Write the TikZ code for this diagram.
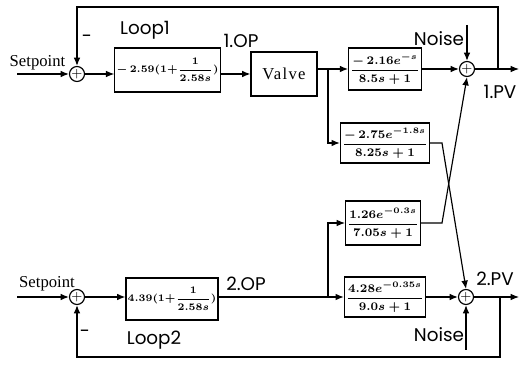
\documentclass[tikz,border=0pt]{standalone}
\usepackage{amsmath}
\usepackage{fontspec}
\setmainfont{Liberation Serif}
\newfontfamily\gothic{Poppins}
\usetikzlibrary{positioning,arrows.meta}
\tikzset{
  blk/.style={draw,line width=0.7pt,inner sep=1pt,font=\fontsize{7}{8}\selectfont\boldmath},
  sumpt/.style={draw,circle,line width=0.7pt,minimum size=9pt,inner sep=0pt,font=\footnotesize},
  lbl/.style={font=\gothic\fontsize{11}{13}\selectfont},
  wire/.style={line width=0.7pt},
  sig/.style={wire,-{Latex[length=5pt,width=4pt]}}
}

\begin{document}
\begin{tikzpicture}[x=0.6pt,y=-0.6pt]
\useasboundingbox (0,0) rectangle (520,366);
% loop 1
\node[sumpt] (sa) at (77,74) {$+$};
\node[blk,minimum width=57pt,minimum height=26.4pt,font=\fontsize{6.3}{7}\selectfont\boldmath] (ca) at (167.5,70) {$-\,2.59(1{+}\dfrac{1}{2.58s})$};
\node[blk,minimum width=39.6pt,minimum height=26.4pt,font=\normalsize] (valve) at (284,74) {\addfontfeature{LetterSpace=8}Valve};
\node[blk,minimum width=40.8pt,minimum height=25.2pt] (g11) at (385,69) {$\dfrac{-\,2.16e^{-s}}{8.5s+1}$};
\node[blk,minimum width=39.6pt,minimum height=24pt] (g21) at (385,143) {$\dfrac{-\,2.75e^{-1.8s}}{8.25s+1}$};
\node[sumpt] (sb1) at (467,69) {$+$};
\coordinate (ina) at (17,74);
\coordinate (pa) at (328,69);
\coordinate (na) at (467,25);
\coordinate (ta) at (498,69);
\coordinate (oa) at (519,69);
\coordinate (fa) at (498,7);
\coordinate (da) at (442,143);
% loop 2
\node[sumpt] (sb) at (77,297) {$+$};
\node[blk,minimum width=51.6pt,minimum height=25.2pt,font=\fontsize{6}{7}\selectfont\boldmath] (cb) at (172,299) {$4.39(1{+}\dfrac{1}{2.58s})$};
\node[blk,minimum width=36pt,minimum height=26.4pt] (g12) at (383,223) {$\dfrac{1.26e^{-0.3s}}{7.05s+1}$};
\node[blk,minimum width=45.6pt,minimum height=24pt] (g22) at (385,297) {$\dfrac{4.28e^{-0.35s}}{9.0s+1}$};
\node[sumpt] (sb2) at (466,297) {$+$};
\coordinate (inb) at (17,297);
\coordinate (pb) at (328,297);
\coordinate (nb) at (466,350);
\coordinate (tb) at (500,297);
\coordinate (ob) at (519,297);
\coordinate (fb) at (500,357);
\coordinate (db) at (442,223);
% labels
\node (spa) at (37.5,63) {Setpoint};
\node (spb) at (47,284) {Setpoint};
\node[lbl] (loopa) at (145,30) {Loop1};
\node[lbl] (loopb) at (154,340) {Loop2};
\node[lbl] (minusa) at (87,39) {-};
\node[lbl] (minusb) at (85,334) {-};
\node[lbl] (opa) at (241,41) {1.OP};
\node[lbl] (opb) at (246,284) {2.OP};
\node[lbl] (noisea) at (439,39) {Noise};
\node[lbl] (noiseb) at (439,335) {Noise};
\node[lbl] (pva) at (500,92) {1.PV};
\node[lbl] (pvb) at (495,279) {2.PV};
% connectors loop 1
\draw[sig] (ina) -- (sa);
\draw[sig] (sa) -- (sa -| ca.west);
\draw[sig] (ca.east |- valve) -- (valve);
\draw[wire] (valve.east |- pa) -- (pa);
\draw[sig] (pa) -- (g11);
\draw[sig] (pa) |- (g21);
\draw[sig] (g11) -- (sb1);
\draw[sig] (na) -- (sb1);
\draw[sig] (sb1) -- (oa);
\draw[sig] (ta) -- (fa) -| (sa);
\draw[sig] (g21.east) -- (da) -- (sb2.north);
% connectors loop 2
\draw[sig] (inb) -- (sb);
\draw[sig] (sb) -- (sb -| cb.west);
\draw[wire] (cb.east |- sb) -- (pb);
\draw[sig] (pb) -- (g22);
\draw[sig] (pb) |- (g12);
\draw[sig] (g22) -- (sb2);
\draw[sig] (nb) -- (sb2);
\draw[sig] (sb2) -- (ob);
\draw[sig] (tb) -- (fb) -| (sb);
\draw[sig] (g12.east) -- (db) -- (sb1.south);
\end{tikzpicture}
\end{document}
